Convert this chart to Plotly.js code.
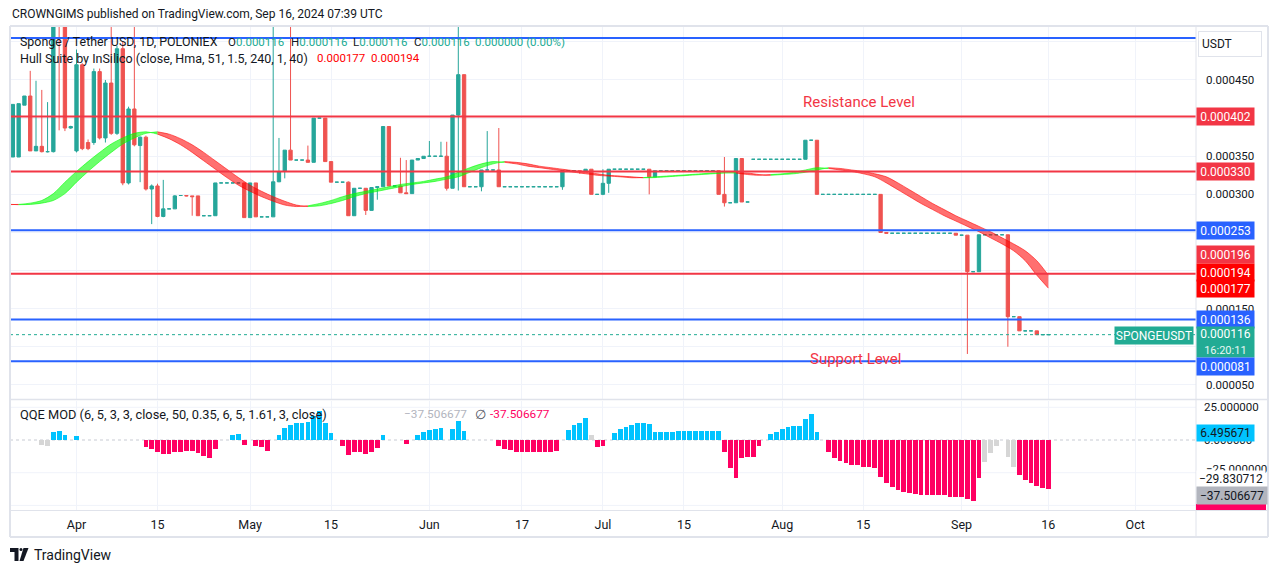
<!DOCTYPE html>
<html><head><meta charset="utf-8">
<script src="https://cdn.plot.ly/plotly-3.0.1.min.js"></script>
<style>html,body{margin:0;padding:0;background:#fff}#chart{width:1281px;height:573px}</style>
</head><body><div id="chart"></div>
<script>
// ---------- DATA (prices in millionths of USDT, one candle per day from 2024-03-21) ----------
const opens = [
349,349,417,429,357,363,356,356,580,550,
387,357,470,368,368,461,374,446,380,491,
315,412,364,375,307,311,271,281,281,298.5,
298.5,298,298,272,272,272,315,315,315,315,
315,269.5,315,270.5,270.5,270.5,316.5,330,358,345,
345,345,342,400,400,343,316,316,316,272,
308,308,279,309,310,389,311,311,302,301,
345,347,350,350,350,350,308,404,457,310,
310,310,332,332,332,310,310,310,310,310,
310,310,310,310,310,310,331,331,331,330,
333,300,300,314.5,333,333,333,333,333,333,
333,323,331,331,331,331,331,331,331,331,
331,331,331,300,289,289,347,290,346,346,
346,346,346,346,346,346,346,346,371,371,
300,300,300,300,300,300,300,300,300,300,
300,250,249,249,249,249,249,249,249,249,
249,249,249,249,246.5,246.5,198.6,198.6,247,247,
247,247,247,139.6,139.6,121,121,121,116,116];
const highs = [
418,419,429,462,449,437,421,620,600,560,
390,490,472,372,465,465,450,540,495,500,
415,540,376,377,313,314,319,281,299,298.5,
299,298,298,272,272,315,315,315,315,315,
315,315,315,270.5,270.5,560,374,358,550,345,
345,364,400,400,400,343,316,316,317,308,
308,308,309,310,389,389,311,348,345,345,
347,350,370,350,369,369,404,580,457,310,
310,332,383,332,387,310,310,310,310,310,
310,310,310,310,310,331,331,331,331,333,
333,300,333,333,333,333,333,333,333,333,
333,331,331,331,331,331,331,331,331,331,
331,331,331,349,289,347,347,290,346,346,
346,346,346,346,346,346,346,371,371,371,
300,300,300,300,300,300,300,300,300,300,
300,250,249,249,249,249,249,249,249,249,
249,249,249,249,246.5,246.5,198.6,247,247,247,
247,247,247,139.6,139.6,121,121,121,116,116];
const lows = [
349,349,417,357,357,355,355,355,384,383,
386,355,358,358,365,372,368,378,378,312,
313,363,316,305,261,270,270,281,281,298.5,
297.5,272,272,272,272,272,315,315,315,315,
269.5,269.5,270.5,270.5,270.5,270.5,316,321,345,345,
345,342,342,400,343,316,316,316,272,272,
308,273,279,293,310,311,311,302,301,301,
345,347,350,350,350,305,308,305,310,310,
310,304,332,332,310,310,310,310,310,310,
310,310,310,310,310,306,331,331,327,330,
300,300,299,302,333,333,333,333,333,333,
300,323,331,331,331,331,331,331,331,331,
331,331,300,284,289,289,290,290,346,346,
346,346,346,346,346,346,346,346,371,300,
300,300,300,300,300,300,300,300,300,300,
250,249,249,249,249,249,249,249,249,249,
249,249,249,246.5,246.5,90.7,198.6,198.6,247,247,
247,247,100.2,139.6,121,121,121,116,116,116];
const closes = [
418,419,429,357,363,356,356,580,550,387,
389,470,360,360,461,374,446,380,491,315,
412,365,375,307,311,271,281,281,298,298.5,
298,297,272,272,272,315,315,315,315,315,
269.5,315,270.5,270.5,270.5,316.5,330,358,345,345,
345,342,400,400,343,316,316,316,272,308,
308,279,309,310,389,311,311,302,301,345,
347,350,350,350,350,308,404,457,310,310,
310,332,332,332,310,310,310,310,310,310,
310,310,310,310,310,331,331,331,330,333,
300,300,314.5,333,333,333,333,333,333,333,
323,331,331,331,331,331,331,331,331,331,
331,331,300,289,289,347,290,290,346,346,
346,346,346,346,346,346,346,371,371,300,
300,300,300,300,300,300,300,300,300,300,
250,249,249,249,249,249,249,249,249,249,
249,249,249,246.5,246.5,198.6,198.6,247,247,247,
247,247,139.6,139.6,121,121,121,116,116,116];

// Hull Suite band, sampled every 2 days from 2024-03-20 (millionths)
const hullFast = [286.5,286.8,288.5,292,301,316,330,343,355,366,374,380,382,379,373,365,355,344,333,322,
312,304,297,291,286,284,285,288,292,297,301,304,307,310,313,315,317,320,323,329,
335,340,343,342,340,337,335,333,331,329,327,325,324,323,321.8,322,323,324,325,326,
327,328,328.5,328,326,325,326,327,329,332,335,334,332,330,327,323,315,306,297,288,
280,272,265,258,251,243,235,226,213,194,177];
const hullSlow = [287,286.5,286.8,288.5,292,301,316,330,343,355,366,374,380,382,379,373,365,355,344,333,
322,312,304,297,291,286,284,285,288,292,297,301,304,307,310,313,315,317,320,323,
329,335,340,343,342,340,337,335,333,331,329,327,325,324,323,321.8,322,323,324,325,
326,327,328,328.5,328,326,325,326,327,329,332,335,334,332,330,327,323,315,306,297,
288,280,272,265,258,251,243,235,226,213,194];

// QQE MOD histogram, one value per candle day (null = no bar)
const qqeVals = [
null,null,null,null,null,-3.8,-4.6,6.4,7.1,3.8,
null,3.1,null,null,null,null,null,null,null,null,
null,null,null,-5.1,-6.9,-9.4,-10.7,-10.7,-9.4,-8.9,
-8.2,-8.2,-10.2,-12.0,-13.5,-6.9,null,null,3.8,4.8,
-3.8,null,-4.3,-5.1,-8.4,null,3.8,9.4,11.7,12.7,
12.7,13.5,18.6,22.2,12.7,5.6,null,-4.3,-11.5,-9.4,
-9.4,-10.7,-8.9,-5.9,3.8,null,null,null,-3.3,null,
3.8,6.1,7.6,8.4,8.9,null,8.2,14.5,6.9,null,
null,null,null,null,-4.6,-6.9,-7.6,-8.9,-8.9,-9.4,
-9.4,-9.4,-9.2,-9.2,-8.2,null,7.6,11.5,12.7,16.6,
3.8,-5.1,-4.3,null,5.6,8.4,10.2,11.7,12.7,12.7,
12.2,5.9,6.4,6.4,6.4,7.1,7.1,7.1,7.1,7.1,
7.1,7.1,7.1,-9.4,-21.1,-28.8,-13.5,-12.7,-12.7,-4.3,
null,4.6,6.4,8.4,10.2,10.7,10.7,16.1,19.9,6.1,
null,-8.9,-13.5,-15.8,-17.8,-18.9,-19.4,-20.4,-20.4,-21.1,
-28.0,-33.1,-36.2,-38.2,-39.7,-40.8,-41.5,-42.3,-42.3,-42.3,
-42.3,-42.3,-43.3,-43.3,-43.8,-45.1,-46.4,-28.8,-16.6,-9.7,
-4.3,null,-12.7,-20.4,-26.8,-30.6,-32.6,-34.9,-36.4,-37.5];
const qqeNeutralDays = ['2024-03-26','2024-03-27','2024-06-29','2024-09-05','2024-09-06','2024-09-07','2024-09-09','2024-09-10'];

const resistanceLevels = [0.000402, 0.000330, 0.000196];
const blueLevels = [0.000505, 0.000253, 0.000136, 0.000081];
const lastPrice = 0.000116;

const priceTicks = [0.00005,0.0001,0.00015,0.0002,0.00025,0.0003,0.00035,0.0004,0.00045,0.0005];
const priceTickShown = [true,false,true,false,false,true,true,false,true,false];
const tickDates = ['2024-04-01','2024-04-15','2024-05-01','2024-05-15','2024-06-01','2024-06-17','2024-07-01','2024-07-15','2024-08-01','2024-08-15','2024-09-01','2024-09-16','2024-10-01'];
const tickLabels = ['Apr','15','May','15','Jun','17','Jul','15','Aug','15','Sep','16','Oct'];

// ---------- BUILD ----------
const UNIT = 1e-6, DAY = 86400000;
const dayStr = t => new Date(t).toISOString().slice(0,10);
const firstDay = Date.UTC(2024,2,21);
const dates = opens.map((_,i)=>dayStr(firstDay + i*DAY));
const hullDates = hullFast.map((_,i)=>dayStr(Date.UTC(2024,2,20) + i*2*DAY));

const UP='#26a69a', DN='#ef5350', TEAL='#22ab94', RED='#f23645', BLUE='#2962ff';
const PL=10, PR=1196, PT=27, PB=510;
const px = x => (x-PL)/(PR-PL);
const py = y => (PB-y)/(PB-PT);

const moveIdx=[], flatIdx=[];
opens.forEach((o,i)=> (o===closes[i]?flatIdx:moveIdx).push(i));
const pick=(arr,idx)=>idx.map(i=>arr[i]*UNIT);
const candle=(idx,inc,dec)=>({type:'candlestick', xaxis:'x', yaxis:'y',
  x: idx.map(i=>dates[i]), open:pick(opens,idx), high:pick(highs,idx), low:pick(lows,idx), close:pick(closes,idx),
  increasing:{line:{color:inc,width:1},fillcolor:inc}, decreasing:{line:{color:dec,width:1},fillcolor:dec},
  whiskerwidth:0, hoverinfo:'skip'});
const traces=[candle(moveIdx,UP,DN), candle(flatIdx,UP,UP)];

// Hull band segments
const GREENB='rgba(0,255,0,0.58)', REDB='rgba(255,0,0,0.56)';
const rising = hullFast.map((v,i)=>v>=hullSlow[i]);
let rs=0;
for(let i=1;i<=rising.length;i++){
  if(i===rising.length || rising[i]!==rising[rs]){
    const end=Math.min(i,rising.length-1), idx=[];
    for(let k=rs;k<=end;k++) idx.push(k);
    const col=rising[rs]?GREENB:REDB;
    traces.push({type:'scatter',mode:'lines',xaxis:'x',yaxis:'y',x:idx.map(k=>hullDates[k]),y:idx.map(k=>hullSlow[k]*UNIT),
      line:{color:col,width:1,shape:'spline',smoothing:0.8},hoverinfo:'skip'});
    traces.push({type:'scatter',mode:'lines',xaxis:'x',yaxis:'y',x:idx.map(k=>hullDates[k]),y:idx.map(k=>hullFast[k]*UNIT),
      fill:'tonexty',fillcolor:col,line:{color:col,width:1,shape:'spline',smoothing:0.8},hoverinfo:'skip'});
    rs=i;
  }
}

// QQE bars
const qqeColors = qqeVals.map((v,i)=> v===null?'rgba(0,0,0,0)': qqeNeutralDays.includes(dates[i])?'#d6d6d6': v>0?'#00c3ff':'#ff0062');
traces.push({type:'bar',xaxis:'x',yaxis:'y2',x:dates,y:qqeVals,width:0.82*DAY,marker:{color:qqeColors,line:{width:0}},hoverinfo:'skip'});

// shapes
const shapes=[];
const GRID='#f0f3fa', FRAME='#e0e3eb';
resistanceLevels.forEach(v=>shapes.push({type:'line',xref:'paper',yref:'y',x0:0,x1:1,y0:v,y1:v,line:{color:RED,width:2},layer:'above'}));
blueLevels.forEach(v=>shapes.push({type:'line',xref:'paper',yref:'y',x0:0,x1:1,y0:v,y1:v,line:{color:BLUE,width:2},layer:'above'}));
shapes.push({type:'line',xref:'paper',yref:'y',x0:0,x1:1,y0:lastPrice,y1:lastPrice,line:{color:TEAL,width:1,dash:'dot'},layer:'above'});
[25,-25,-50].forEach(v=>shapes.push({type:'line',xref:'paper',yref:'y2',x0:0,x1:1,y0:v,y1:v,line:{color:GRID,width:1},layer:'below'}));
shapes.push({type:'line',xref:'paper',yref:'y2',x0:0,x1:1,y0:0,y1:0,line:{color:'#c8cbd3',width:1,dash:'dot'},layer:'below'});
const L=(x0,y0,x1,y1,c,w)=>shapes.push({type:'line',xref:'paper',yref:'paper',x0:px(x0),y0:py(y0),x1:px(x1),y1:py(y1),line:{color:c,width:w}});
L(10,26,1268,26,FRAME,2); L(10,537,1268,537,FRAME,2); L(10,26,10,537,FRAME,2); L(1268,26,1268,537,FRAME,2);
L(1196,26,1196,537,FRAME,1); L(10,510.5,1268,510.5,FRAME,1); L(10,399.5,1268,399.5,FRAME,1.5);
shapes.push({type:'rect',xref:'paper',yref:'paper',x0:px(1196),x1:px(1266),y0:py(504),y1:py(510),fillcolor:'#ff0062',line:{width:0}});
// TradingView logo
const P=(pts)=>'M'+pts.map(p=>px(p[0])+','+py(p[1])).join(' L')+' Z';
shapes.push({type:'path',xref:'paper',yref:'paper',path:P([[10,548],[18.5,548],[18.5,561],[14.5,561],[14.5,552],[10,552]]),fillcolor:'#131722',line:{width:0}});
shapes.push({type:'circle',xref:'paper',yref:'paper',x0:px(19.5),x1:px(22.5),y0:py(548),y1:py(551),fillcolor:'#131722',line:{width:0}});
shapes.push({type:'path',xref:'paper',yref:'paper',path:P([[23.5,548],[28.5,548],[23.5,561],[19.5,561]]),fillcolor:'#131722',line:{width:0}});

// annotations
const ann=[];
const T=(text,x,y,size,color,anchor)=>ann.push({xref:'paper',yref:'paper',x:px(x),y:py(y),xanchor:anchor||'left',yanchor:'middle',text,showarrow:false,font:{size:size||12.5,color:color||'#131722'}});
T('CROWNGIMS published on TradingView.com, Sep 16, 2024 07:39 UTC',10,14,12);
T('Sponge / Tether USD, 1D, POLONIEX',18,42,12.4);
const sp=(c,t)=>`<span style="color:${c}">${t}</span>`;
T('O'+sp(TEAL,'0.000116'),226,42,11.5); T('H'+sp(TEAL,'0.000116'),289,42,11.5); T('L'+sp(TEAL,'0.000116'),351,42,11.5); T('C'+sp(TEAL,'0.000116'),412,42,11.5);
T(sp(TEAL,'0.000000 (0.00%)'),473,42,11.5);
T('Hull Suite by InSilico (close, Hma, 51, 1.5, 240, 1, 40)',18,58,12.5);
T('0.000177',315,58,11.5,'#ff0000'); T('0.000194',369,58,11.5,'#ff0000');
T('QQE MOD (6, 5, 3, 3, close, 50, 0.35, 6, 5, 1.61, 3, close)',18,414,12.8);
T('\u221237.506677',402,414,11.8,'#b2b5be'); T('\u2205',473,414,13,'#50535e'); T('-37.506677',488,414,11.8,'#ff0062');
T('Resistance Level',859,102,15,RED,'center');
T('Support Level',855,359,15,RED,'center');
T('TradingView',32,555,14);
T('\u221225.000000',1204,469,11.5);

const BOX=(text,yref,y,bg,fg,w,h,x)=>ann.push({xref:'paper',yref:yref,x:px(x||1196),y:y,xanchor:'left',yanchor:'middle',text,showarrow:false,
  bgcolor:bg,width:w||55,height:h||15,borderpad:1,align:'center',font:{size:12,color:fg||'#ffffff'}});
ann.push({xref:'paper',yref:'paper',x:px(1198),y:py(44),xanchor:'left',yanchor:'middle',text:'USDT',showarrow:false,bgcolor:'#ffffff',bordercolor:FRAME,borderwidth:1,borderpad:3,width:56,height:18,align:'left',font:{size:12,color:'#131722'}});
BOX(resistanceLevels[0].toFixed(6),'y',resistanceLevels[0],RED);
BOX(resistanceLevels[1].toFixed(6),'y',resistanceLevels[1],RED);
BOX(blueLevels[1].toFixed(6),'y',blueLevels[1],BLUE);
BOX(resistanceLevels[2].toFixed(6),'paper',py(254.7),RED);
BOX((hullSlow[hullSlow.length-1]*UNIT).toFixed(6),'paper',py(272),'#ff0000');
BOX((hullFast[hullFast.length-1]*UNIT).toFixed(6),'paper',py(288.3),'#ff0000');
BOX(blueLevels[2].toFixed(6),'y',blueLevels[2],BLUE);
BOX(lastPrice.toFixed(6)+'<br><span style="font-size:11px;color:#e6f7f3">16:20:11</span>','paper',py(342),TEAL,'#ffffff',55,28);
BOX('SPONGEUSDT','paper',py(335),TEAL,'#ffffff',76,15,1114);
BOX(blueLevels[3].toFixed(6),'paper',py(366),BLUE);
BOX('6.495671','paper',py(432.5),'#00c3ff','#131722',55,14);
BOX('\u221229.830712','paper',py(478.5),'#ffffff','#131722',66,14);
BOX('\u221237.506677','paper',py(495),'#b2b5be','#131722',68,15);

const layout={
  width:1281,height:573,margin:{l:PL,r:1281-PR,t:PT,b:573-PB},
  paper_bgcolor:'#ffffff',plot_bgcolor:'#ffffff',showlegend:false,
  font:{family:'Roboto, "Noto Sans", sans-serif',size:12,color:'#131722'},
  boxgap:0.18,bargap:0,
  xaxis:{type:'date',range:['2024-03-20 12:07','2024-10-11 12:29'],anchor:'y2',tickvals:tickDates,ticktext:tickLabels,
    showgrid:true,gridcolor:GRID,gridwidth:1,zeroline:false,showline:false,ticks:'',ticklabelstandoff:5,
    tickfont:{size:12.5,color:'#131722'},rangeslider:{visible:false},fixedrange:true,automargin:false},
  yaxis:{domain:[py(399),1],range:[0.00003163,0.0005195],side:'right',tickvals:priceTicks,
    ticktext:priceTicks.map((v,i)=>priceTickShown[i]?v.toFixed(6):''),
    showgrid:true,gridcolor:GRID,zeroline:false,showline:false,ticks:'',ticklabelstandoff:9,tickfont:{size:11.5,color:'#131722'},fixedrange:true,automargin:false},
  yaxis2:{domain:[0,py(400.5)],range:[-53.52,30.2],side:'right',tickvals:[25,0],ticktext:['25.000000','0.000000'],
    showgrid:false,zeroline:false,showline:false,ticks:'',ticklabelstandoff:7,tickfont:{size:11.5,color:'#131722'},fixedrange:true,automargin:false},
  shapes:shapes,annotations:ann
};
Plotly.newPlot('chart',traces,layout,{displayModeBar:false,staticPlot:true});
</script></body></html>
